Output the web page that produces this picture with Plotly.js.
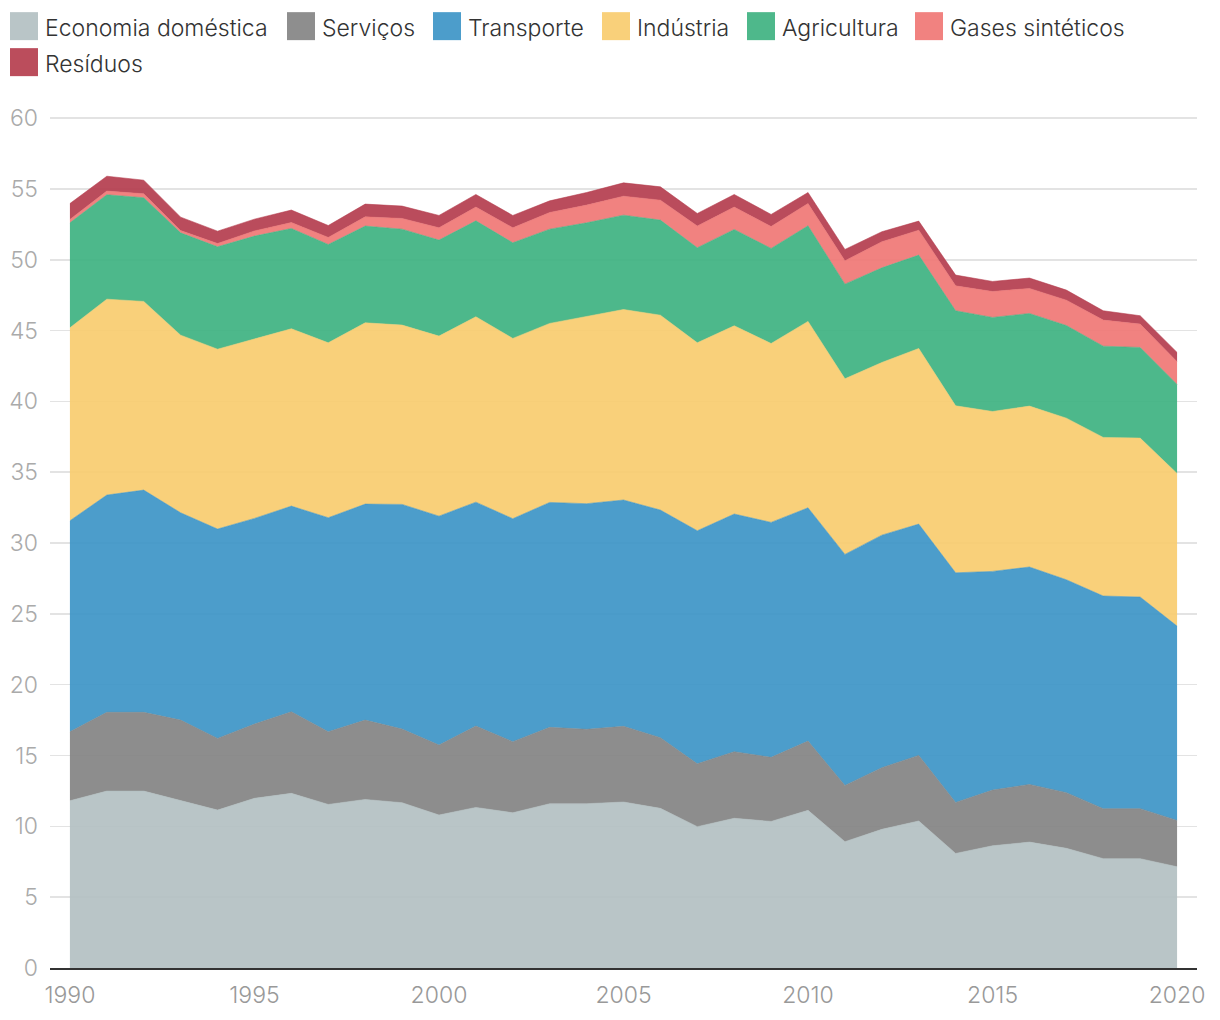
<!DOCTYPE html>
<html>
<head>
<meta charset="utf-8">
<script src="https://cdn.plot.ly/plotly-3.0.1.min.js"></script>
<style>
  html, body { margin: 0; padding: 0; background: #fff; }
  #chart { width: 1220px; height: 1020px; }
</style>
</head>
<body>
<div id="chart"></div>
<script>
// ---- Data ----
const years = [1990,1991,1992,1993,1994,1995,1996,1997,1998,1999,2000,2001,2002,2003,2004,2005,2006,2007,2008,2009,2010,2011,2012,2013,2014,2015,2016,2017,2018,2019,2020];

const economiaDomestica = [11.81,12.49,12.49,11.83,11.15,11.98,12.33,11.55,11.90,11.67,10.80,11.34,10.96,11.60,11.60,11.72,11.27,9.98,10.57,10.35,11.13,8.92,9.79,10.38,8.09,8.63,8.89,8.45,7.72,7.72,7.15];
const servicos = [4.87,5.56,5.56,5.67,5.06,5.24,5.76,5.13,5.60,5.20,4.94,5.74,5.02,5.39,5.25,5.34,4.99,4.44,4.70,4.52,4.89,3.97,4.35,4.63,3.60,3.93,4.07,3.93,3.53,3.53,3.27];
const transporte = [14.90,15.34,15.69,14.64,14.78,14.52,14.52,15.11,15.25,15.86,16.16,15.81,15.74,15.88,15.93,15.98,16.07,16.45,16.78,16.59,16.47,16.31,16.42,16.33,16.21,15.44,15.35,15.03,15.01,14.94,13.72];
const industria = [13.62,13.83,13.32,12.54,12.70,12.66,12.52,12.35,12.80,12.66,12.71,13.09,12.73,12.64,13.20,13.45,13.76,13.27,13.29,12.63,13.16,12.40,12.19,12.40,11.79,11.29,11.36,11.41,11.20,11.22,10.78];
const agricultura = [7.41,7.37,7.32,7.22,7.23,7.27,7.08,6.94,6.83,6.77,6.78,6.77,6.75,6.65,6.63,6.66,6.71,6.71,6.80,6.71,6.75,6.68,6.68,6.59,6.71,6.64,6.54,6.54,6.44,6.40,6.28];
const gasesSinteticos = [0.24,0.26,0.28,0.16,0.23,0.37,0.42,0.50,0.65,0.76,0.87,0.97,1.06,1.18,1.25,1.34,1.41,1.53,1.58,1.55,1.57,1.65,1.84,1.76,1.76,1.83,1.77,1.79,1.84,1.65,1.60];
const residuos = [1.12,1.05,0.96,0.95,0.87,0.83,0.88,0.84,0.90,0.87,0.87,0.89,0.87,0.82,0.89,0.94,0.94,0.89,0.89,0.85,0.78,0.80,0.71,0.64,0.76,0.71,0.73,0.71,0.66,0.59,0.66];

const seriesNames = ["Economia doméstica","Serviços","Transporte","Indústria","Agricultura","Gases sintéticos","Resíduos"];
const seriesValues = [economiaDomestica, servicos, transporte, industria, agricultura, gasesSinteticos, residuos];

const xTickValues = [1990,1995,2000,2005,2010,2015,2020];
const yTickValues = [0,5,10,15,20,25,30,35,40,45,50,55,60];

// ---- Styles ----
const seriesColors = ["#b9c5c7","#8e8e8e","#4c9dcb","#f9d07a","#4eb88b","#f18280","#bb4d5c"];
const FONT = "Inter, Roboto, 'Noto Sans', sans-serif";
const AREA_ALPHA = 0.9;

// colour that, drawn with AREA_ALPHA over white, shows as the given hex
function areaColor(hex, a) {
  const c = [1,3,5].map(k => parseInt(hex.slice(k,k+2),16));
  const d = c.map(v => Math.max(0, Math.min(255, Math.round((v - 255*(1-a)) / a))));
  return `rgba(${d[0]},${d[1]},${d[2]},${a})`;
}

const traces = seriesNames.map((name, i) => ({
  type: "scatter",
  mode: "lines",
  name: name,
  x: years,
  y: seriesValues[i],
  stackgroup: "one",
  line: { width: 0.6, color: areaColor(seriesColors[i], AREA_ALPHA) },
  fillcolor: areaColor(seriesColors[i], AREA_ALPHA),
  showlegend: false,
  hoverinfo: "x+y+name"
}));

// ---- Custom legend (square swatches, like the reference) ----
const plotLeft = 50, plotRight = 1197, plotBottom = 968;
const yMax = 60.08;
const pxPerUnit = 850 / 60;
const plotTop = plotBottom - yMax * pxPerUnit;
const pxToPaperX = px => (px - plotLeft) / (plotRight - plotLeft);
const pxToPaperY = py => (plotBottom - py) / (plotBottom - plotTop);

const legendSwatchX = [10, 287, 433, 602, 747, 915, 10];
const legendRowY = [26, 26, 26, 26, 26, 26, 62];
const swatchSize = 28;

const shapes = [];
const annotations = [];
seriesNames.forEach((name, i) => {
  const x0 = legendSwatchX[i], yc = legendRowY[i];
  shapes.push({
    type: "rect", xref: "paper", yref: "paper",
    x0: pxToPaperX(x0), x1: pxToPaperX(x0 + swatchSize),
    y0: pxToPaperY(yc + swatchSize / 2), y1: pxToPaperY(yc - swatchSize / 2),
    fillcolor: seriesColors[i], line: { width: 0 }, layer: "above"
  });
  annotations.push({
    xref: "paper", yref: "paper",
    x: pxToPaperX(x0 + swatchSize + 5), y: pxToPaperY(yc + 2),
    xanchor: "left", yanchor: "middle",
    text: name, showarrow: false,
    font: { family: FONT, size: 23, color: "#333333", weight: 300 }
  });
});

const layout = {
  width: 1220, height: 1020,
  margin: { l: plotLeft, r: 1220 - plotRight, t: plotTop, b: 1020 - plotBottom, pad: 0 },
  paper_bgcolor: "#ffffff",
  plot_bgcolor: "#ffffff",
  showlegend: false,
  font: { family: FONT, size: 23, color: "#999999", weight: 300 },
  xaxis: {
    range: [1989.46, 2020.54],
    tickvals: xTickValues,
    ticktext: xTickValues.map(String),
    showgrid: false,
    zeroline: false,
    showline: true,
    linecolor: "#333333",
    linewidth: 2,
    ticks: "",
    ticklabelstandoff: 5,
    tickfont: { family: FONT, size: 23, color: "#999999", weight: 300 },
    fixedrange: true
  },
  yaxis: {
    range: [0, yMax],
    tickvals: yTickValues,
    ticktext: yTickValues.map(String),
    showgrid: true,
    gridcolor: "#e3e3e3",
    gridwidth: 1.5,
    zeroline: false,
    showline: false,
    ticks: "",
    ticklabelstandoff: 11,
    tickfont: { family: FONT, size: 23, color: "#aaaaaa", weight: 300 },
    fixedrange: true
  },
  shapes: shapes,
  annotations: annotations
};

Plotly.newPlot("chart", traces, layout, { displayModeBar: false, staticPlot: true });
</script>
</body>
</html>
